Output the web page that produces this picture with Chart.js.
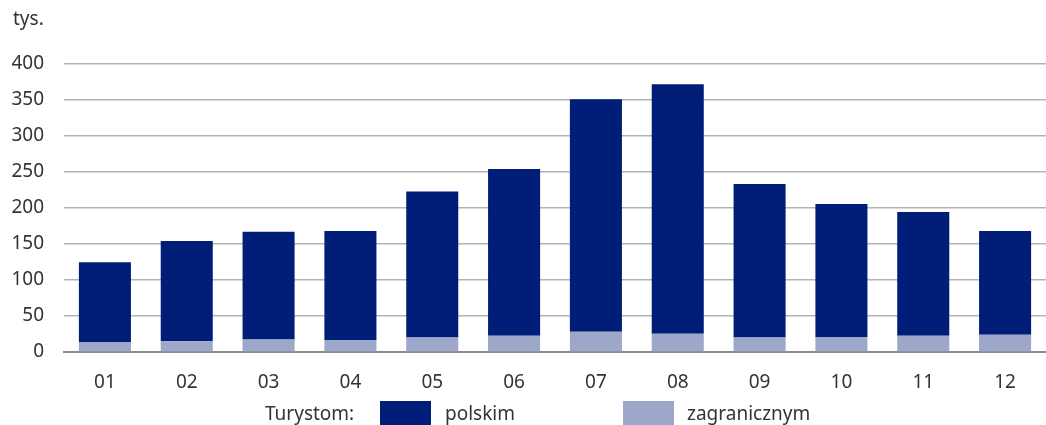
<!DOCTYPE html>
<html lang="pl">
<head>
    <meta charset="UTF-8">
    <title>Turyści według miesięcy</title>
    <script src="https://cdn.jsdelivr.net/npm/chart.js"></script>
    <style>
        body { margin: 0; background: #fff; overflow: hidden; }
        #wrap { position: relative; width: 1046px; height: 425px; font-family: "Noto Sans", sans-serif; color: #333; }
        #unit { position: absolute; left: 13px; top: 5px; font-size: 19px; }
        .lg { position: absolute; top: 400px; font-size: 19px; line-height: 26px; }
        .box { position: absolute; top: 401px; width: 51px; height: 26px; }
    </style>
</head>
<body>
    <div id="wrap">
        <canvas id="chart" width="1046" height="425"></canvas>
        <div id="unit">tys.</div>
        <div class="lg" style="left:265px">Turystom:</div>
        <div class="box" style="left:380px;background:#001e78"></div>
        <div class="lg" style="left:445px">polskim</div>
        <div class="box" style="left:623px;background:#9ca7ca"></div>
        <div class="lg" style="left:687px">zagranicznym</div>
    </div>
    <script>
        // miesiące
        const months = ['01', '02', '03', '04', '05', '06', '07', '08', '09', '10', '11', '12'];
        // turyści zagraniczni (tys.)
        const foreign = [14, 15, 17.5, 16.5, 20, 22.5, 28, 25.5, 20, 21, 22.5, 24];
        // turyści polscy (tys.)
        const polish = [110.5, 139, 149.5, 151.5, 203, 231.5, 323, 346.5, 213.5, 184.5, 172, 144];
        const yTicks = [0, 50, 100, 150, 200, 250, 300, 350, 400];

        const navy = '#001e78';
        const light = '#9ca7ca';
        const font = { family: 'Noto Sans', size: 19 };

        new Chart(document.getElementById('chart'), {
            type: 'bar',
            data: {
                labels: months,
                datasets: [
                    { label: 'zagranicznym', data: foreign, backgroundColor: light },
                    { label: 'polskim', data: polish, backgroundColor: navy }
                ]
            },
            options: {
                responsive: false,
                animation: false,
                layout: { padding: { top: 64, left: 0, right: 0, bottom: 0 } },
                datasets: { bar: { categoryPercentage: 1, barPercentage: 0.636 } },
                plugins: { legend: { display: false }, tooltip: { enabled: false } },
                scales: {
                    x: {
                        stacked: true,
                        grid: { display: false },
                        border: { display: true, color: '#8c8c8c', width: 2 },
                        ticks: { color: '#333', font: font, padding: 11, maxRotation: 0 },
                        afterFit: s => { s.height = 73; }
                    },
                    y: {
                        stacked: true,
                        min: 0,
                        max: 400,
                        afterBuildTicks: s => { s.ticks = yTicks.map(v => ({ value: v })); },
                        grid: {
                            drawTicks: false,
                            color: c => c.tick && c.tick.value === 0 ? 'rgba(0,0,0,0)' : '#b4b4b4',
                            lineWidth: 1.5
                        },
                        border: { display: false },
                        ticks: { color: '#333', font: font, padding: 20 },
                        afterFit: s => { s.width = 64; }
                    }
                }
            }
        });
    </script>
</body>
</html>
